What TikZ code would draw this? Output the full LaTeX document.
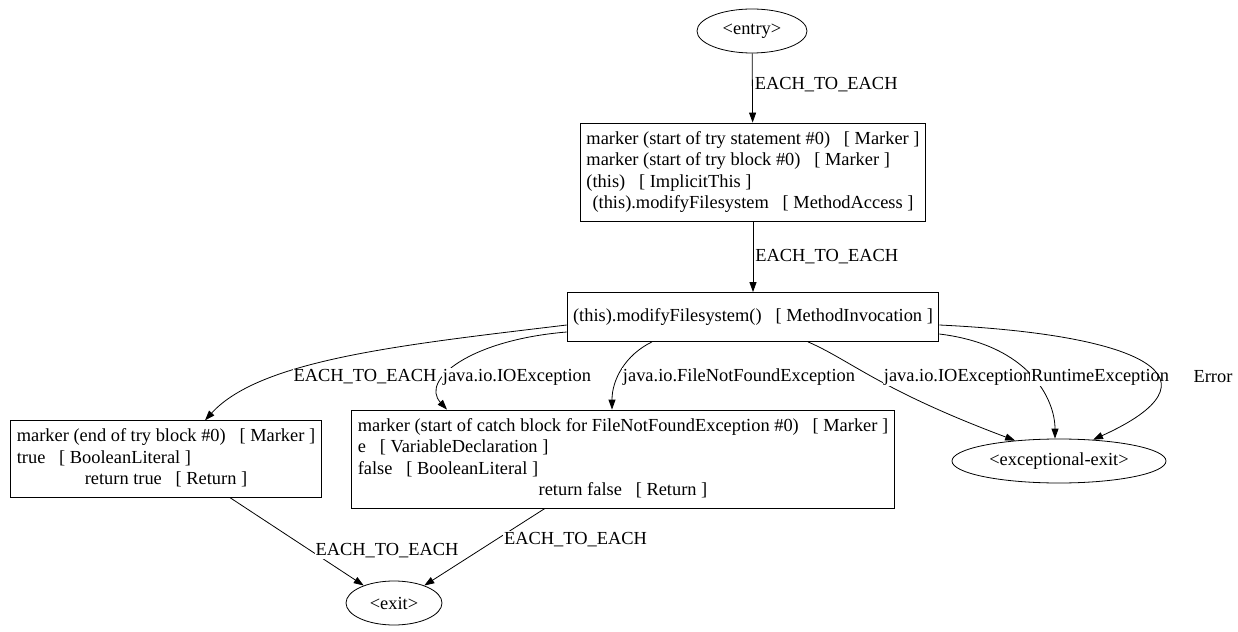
\documentclass[tikz,border=0pt]{standalone}
\usepackage{fontspec}
\setmainfont{Liberation Serif}
\usetikzlibrary{arrows.meta,shapes.geometric}
\begin{document}
\begin{tikzpicture}[x=1bp, y=-1bp, font=\fontsize{18.4bp}{21.5bp}\selectfont,
  every node/.style={inner sep=0pt},
  term/.style={draw, ellipse, minimum height=44bp, line width=0.8pt},
  block/.style={draw, rectangle, inner xsep=6bp, inner ysep=6bp, line width=0.8pt},
  edge/.style={-{Triangle[length=10bp,width=7bp]}, line width=0.8pt},
  lbl/.style={fill=white, inner sep=1bp}]
  \useasboundingbox (0,0) rectangle (1238,632);
  % \draw[help lines, step=50] (0,0) grid (1238,632);

  \node[term, minimum width=110bp] (entry) at (752,31) {<entry>};
  \node[block] (try) at (753,172) {\begin{tabular}{@{}l@{}}
    marker (start of try statement \#0)\ \ \ [ Marker ]\\
    marker (start of try block \#0)\ \ \ [ Marker ]\\
    (this)\ \ \ [ ImplicitThis ]\\
    \multicolumn{1}{@{}c@{}}{(this).modifyFilesystem\ \ \ [ MethodAccess ]}\end{tabular}};
  \node[block, minimum height=49bp] (call) at (753,317) {(this).modifyFilesystem()\ \ \ [ MethodInvocation ]};
  \node[block] (ret) at (166,459) {\begin{tabular}{@{}l@{}}
    marker (end of try block \#0)\ \ \ [ Marker ]\\
    true\ \ \ [ BooleanLiteral ]\\
    \multicolumn{1}{@{}c@{}}{return true\ \ \ [ Return ]}\end{tabular}};
  \node[block] (catch) at (623,459) {\begin{tabular}{@{}l@{}}
    marker (start of catch block for FileNotFoundException \#0)\ \ \ [ Marker ]\\
    e\ \ \ [ VariableDeclaration ]\\
    false\ \ \ [ BooleanLiteral ]\\
    \multicolumn{1}{@{}c@{}}{return false\ \ \ [ Return ]}\end{tabular}};
  \node[term, minimum width=214bp] (exc) at (1059,461) {<exceptional-exit>};
  \node[term, minimum width=96bp] (exit) at (394,603) {<exit>};

  \draw[edge] (entry) -- (try) node[pos=0.45, right=2bp] {EACH\_TO\_EACH};
  \draw[edge] (try) -- (call) node[midway, right=2bp] {EACH\_TO\_EACH};
  \draw[edge] (call.west |- 0,325) .. controls (400,345) and (260,360) .. (ret.north -| 205,0);
  \node[lbl] (l1) at (365,377) {EACH\_TO\_EACH};
  \draw[edge] (call.west |- 0,332) .. controls (470,340) and (420,380) .. (catch.north -| 447,0);
  \node[lbl] (l2) at (517,377) {java.io.IOException};
  \draw[edge] (call.south -| 652,0) .. controls (625,355) and (612,380) .. (catch.north -| 612,0);
  \node[lbl] (l3) at (739,377) {java.io.FileNotFoundException};
  \draw[edge] (call.south -| 808,0) .. controls (850,360) and (880,390) .. (exc.155);
  \node[lbl] (l4) at (958,377) {java.io.IOException};
  \draw[edge] (call.east |- 0,334) .. controls (1030,345) and (1055,400) .. (exc.north -| 1055,0);
  \node[lbl] (l5) at (1100,377) {RuntimeException};
  \draw[edge] (call.east |- 0,325) .. controls (1150,335) and (1225,380) .. (exc.32);
  \node[lbl] (l6) at (1213,377) {Error};
  \draw[edge] (ret.south -| 230,0) -- (exit.150) node[pos=0.6, right=4bp, lbl] {EACH\_TO\_EACH};
  \draw[edge] (catch.south -| 545,0) -- (exit.30) node[pos=0.4, right=6bp, lbl] {EACH\_TO\_EACH};
\end{tikzpicture}
\end{document}
